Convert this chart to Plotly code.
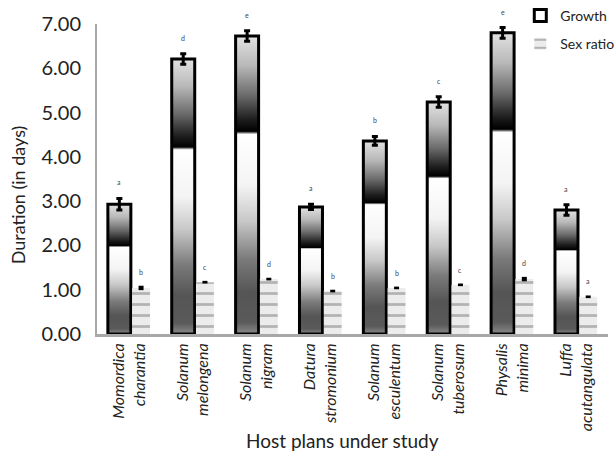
import plotly.graph_objects as go

hosts = ["<i>Momordica<br>charantia</i>", "<i>Solanum<br>melongena</i>", "<i>Solanum<br>nigram</i>",
         "<i>Datura<br>stromonium</i>", "<i>Solanum<br>esculentum</i>", "<i>Solanum<br>tuberosum</i>",
         "<i>Physalis<br>minima</i>", "<i>Luffa<br>acutangulata</i>"]
growth = [2.93, 6.21, 6.73, 2.87, 4.36, 5.24, 6.80, 2.80]
growth_err = [0.13, 0.12, 0.12, 0.06, 0.10, 0.12, 0.12, 0.12]
growth_letters = ["a", "d", "e", "a", "b", "c", "e", "a"]
sex_ratio = [1.04, 1.17, 1.24, 0.97, 1.04, 1.11, 1.24, 0.84]
sex_err = [0.05, 0.03, 0.03, 0.03, 0.03, 0.03, 0.05, 0.03]
sex_letters = ["b", "c", "d", "b", "b", "c", "d", "a"]
y_ticks = [0, 1, 2, 3, 4, 5, 6, 7]

idx = list(range(len(hosts)))
G_OFF, G_W = -0.33, 0.36
S_OFF, S_W = 0.05, 0.28

grad = [[0.0, "#8a8a8a"], [0.04, "#5a5a5a"], [0.14, "#555555"], [0.25, "#7a7a7a"],
        [0.38, "#c8c8c8"], [0.5, "#f4f4f4"], [0.67, "#ffffff"], [0.68, "#000000"],
        [0.72, "#1e1e1e"], [0.8, "#6a6a6a"], [0.9, "#b8b8b8"], [1.0, "#e2e2e2"]]

fig = go.Figure()

# gradient fills for growth bars (computed from data)
for i, v in zip(idx, growth):
    x0, x1 = i + G_OFF, i + G_OFF + G_W
    fig.add_trace(go.Scatter(
        x=[x0, x1, x1, x0, x0], y=[0, 0, v, v, 0], mode="lines",
        fill="toself", line=dict(width=0),
        fillgradient=dict(type="vertical", colorscale=grad, start=0, stop=v),
        showlegend=False, hoverinfo="skip", xaxis="x", yaxis="y"))

fig.add_trace(go.Bar(
    name="Growth", x=idx, y=growth, offset=G_OFF, width=G_W, legendgroup="g",
    marker=dict(color="rgba(255,255,255,0)", line=dict(color="black", width=3)),
    error_y=dict(type="data", array=growth_err, color="black", thickness=3, width=3),
    xaxis="x2", yaxis="y2"))

fig.add_trace(go.Bar(
    name="Sex ratio", x=idx, y=sex_ratio, offset=S_OFF, width=S_W, legendgroup="s",
    marker=dict(color="#e4e4e4", line=dict(width=0),
                pattern=dict(shape="-", bgcolor="#ececec", fgcolor="#7a7a7a",
                             size=11, solidity=0.25)),
    error_y=dict(type="data", array=sex_err, symmetric=True, color="black", thickness=5, width=0),
    xaxis="x2", yaxis="y2"))

for i, v, e, t in zip(idx, growth, growth_err, growth_letters):
    fig.add_annotation(x=i + G_OFF + G_W / 2, y=v + e, text=t, showarrow=False,
                       yshift=16, font=dict(size=7, color="#444"), xref="x2", yref="y2")
for i, v, e, t in zip(idx, sex_ratio, sex_err, sex_letters):
    fig.add_annotation(x=i + S_OFF + S_W / 2, y=v + e, text=t, showarrow=False,
                       yshift=14, font=dict(size=7, color="#444"), xref="x2", yref="y2")

fig.add_annotation(text="Duration (in days)", textangle=-90, xref="paper", yref="paper",
                   x=-0.155, y=0.45, xanchor="center", yanchor="middle",
                   showarrow=False, font=dict(size=18, color="#222"))
fig.add_annotation(text="Host plans under study", xref="paper", yref="paper",
                   x=0.48, y=-0.342, xanchor="center", yanchor="middle",
                   showarrow=False, font=dict(size=19, color="#222"))

fig.update_layout(
    width=615, height=454,
    margin=dict(l=97, r=7, t=24, b=120, autoexpand=False),
    plot_bgcolor="white", paper_bgcolor="white",
    font=dict(family="Lato, Open Sans, sans-serif", color="#222"),
    barmode="overlay",
    showlegend=True,
    legend=dict(x=0.846, y=1.024, xref="container", yref="container",
                xanchor="left", yanchor="top",
                font=dict(size=14), bgcolor="rgba(0,0,0,0)", tracegroupgap=7,
                itemwidth=30),
    xaxis=dict(range=[-0.5, 7.5], tickvals=idx, ticktext=hosts, tickangle=-90,
               showline=True, linecolor="#a8a8a8", linewidth=3, ticks="",
               showgrid=False, zeroline=False, automargin=False,
               tickfont=dict(size=16, color="#222")),
    yaxis=dict(range=[0, 7], tickvals=y_ticks, tickformat=".2f",
               showline=True, linecolor="#a8a8a8", linewidth=2, ticks="",
               showgrid=False, zeroline=False, ticklabelstandoff=10, automargin=False,
               tickfont=dict(size=20, color="#222")),
    xaxis2=dict(range=[-0.5, 7.5], overlaying="x", visible=False),
    yaxis2=dict(range=[0, 7], overlaying="y", visible=False),
)

fig.write_html("out.html", config={"displayModeBar": False},
               post_script="document.body.style.margin='0';")
